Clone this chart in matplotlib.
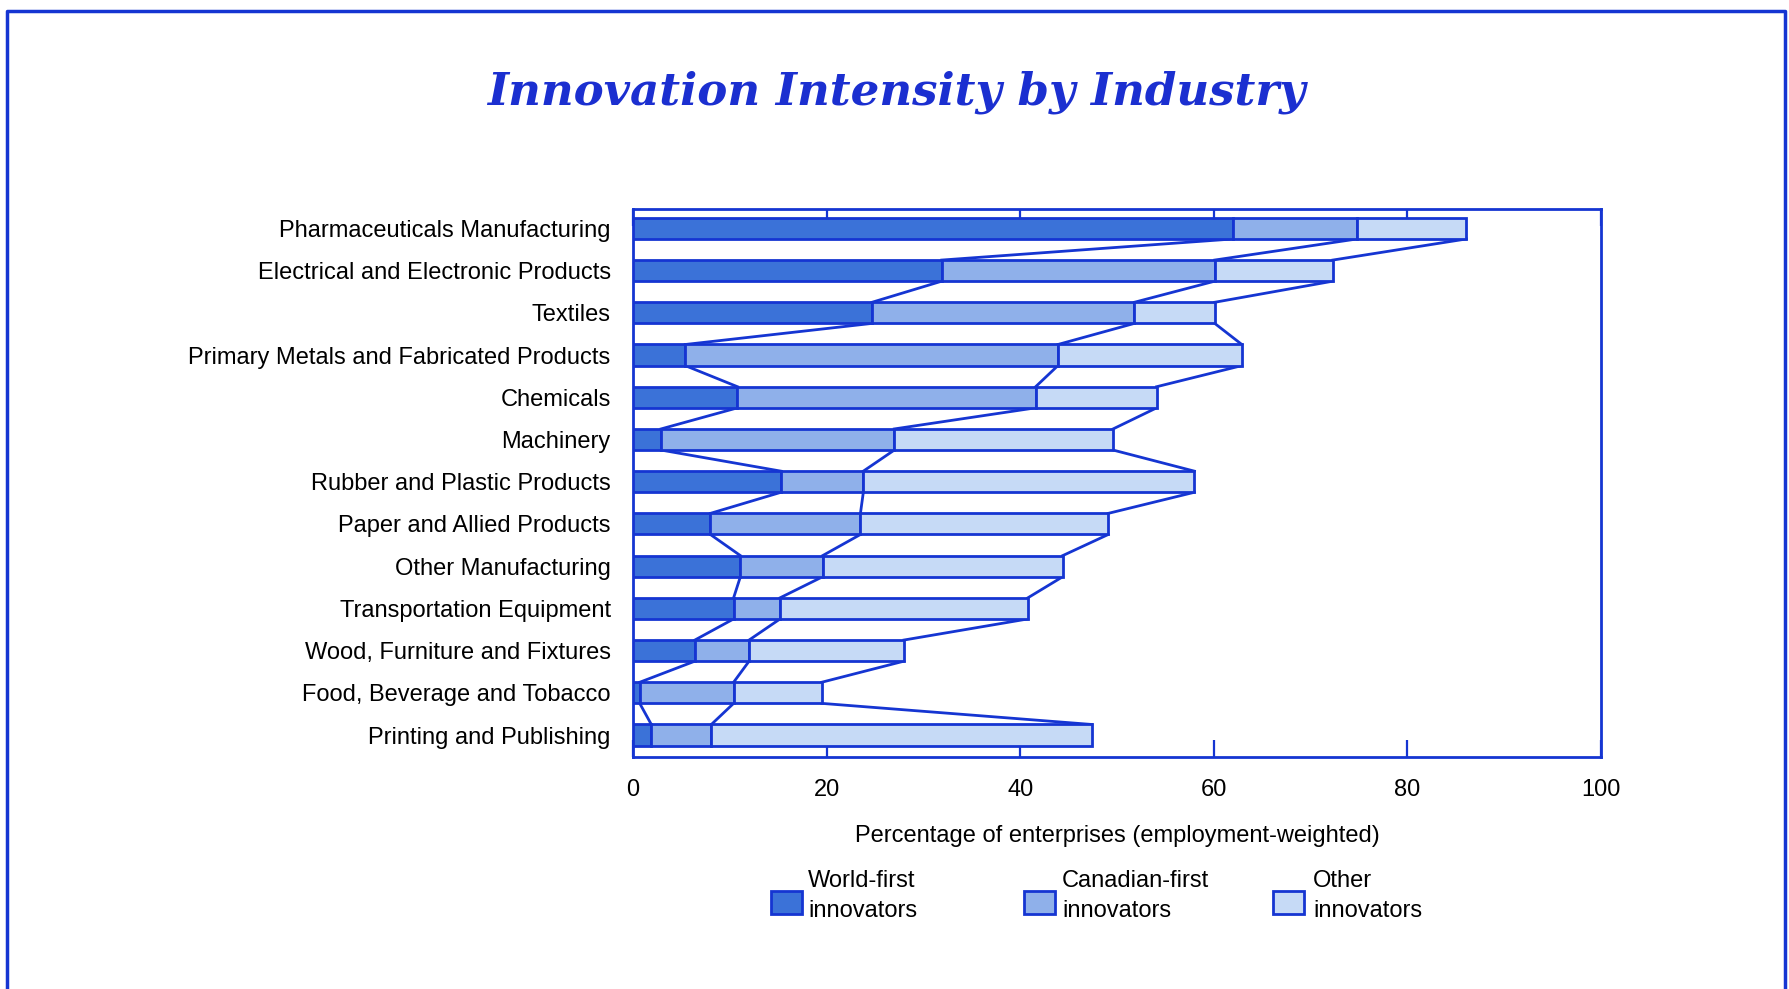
import matplotlib.pyplot as plt
from matplotlib.patches import Rectangle
from matplotlib.lines import Line2D
import numpy as np

plt.rcParams['font.family'] = ['Liberation Sans', 'DejaVu Sans']

industries = ["Pharmaceuticals Manufacturing", "Electrical and Electronic Products",
              "Textiles", "Primary Metals and Fabricated Products", "Chemicals",
              "Machinery", "Rubber and Plastic Products", "Paper and Allied Products",
              "Other Manufacturing", "Transportation Equipment",
              "Wood, Furniture and Fixtures", "Food, Beverage and Tobacco",
              "Printing and Publishing"]

# cumulative end of each segment (percent)
world_first = [62.0, 31.9, 24.7, 5.4, 10.8, 2.9, 15.3, 8.0, 11.1, 10.4, 6.4, 0.7, 1.9]
canadian_first = [74.8, 60.1, 51.8, 43.9, 41.6, 27.0, 23.8, 23.5, 19.6, 15.2, 12.0, 10.4, 8.1]
other = [86.1, 72.3, 60.1, 62.9, 54.1, 49.6, 58.0, 49.1, 44.4, 40.8, 28.0, 19.5, 47.4]

series_names = ["World-first\ninnovators", "Canadian-first\ninnovators", "Other\ninnovators"]
fills = ['#3b72d8', '#8fb0ea', '#c6daf6']
edge = '#1535d2'
title_blue = '#1b2fd0'

fig = plt.figure(figsize=(17.9, 9.89), dpi=100)
ax = fig.add_axes([0.3536, 0.2346, 0.5408, 0.5541])

y = np.arange(len(industries))
h = 0.5
ends = [np.array(world_first), np.array(canadian_first), np.array(other)]
starts = [np.zeros(len(y)), ends[0], ends[1]]

bars = []
for s, e, c, name in zip(starts, ends, fills, series_names):
    b = ax.barh(y, e - s, left=s, height=h, color=c, edgecolor=edge,
                linewidth=2, label=name, zorder=3)
    bars.append(b)

# connecting lines between the segment ends of neighbouring bars
for e in ends:
    for i in range(len(y) - 1):
        ax.plot([e[i], e[i + 1]], [y[i] + h / 2, y[i + 1] - h / 2],
                color=edge, linewidth=2, zorder=2)

ax.set_xlim(0, 100)
ax.set_ylim(12.52, -0.46)
ax.set_yticks(y)
ax.set_yticklabels(industries, fontsize=17)
ax.tick_params(axis='y', length=0, pad=16)
ax.set_xticks([0, 20, 40, 60, 80, 100])
ax.tick_params(axis='x', direction='in', length=12, width=1.6, color=edge,
               top=True, labelsize=17, pad=16)
ax.set_xlabel("Percentage of enterprises (employment-weighted)", fontsize=17, labelpad=17)
for sp in ax.spines.values():
    sp.set_color(edge)
    sp.set_linewidth(2)

fig.text(0.5006, 0.907, "Innovation Intensity by Industry", fontsize=32.5,
         family='DejaVu Serif', style='italic', weight='bold', color=title_blue,
         ha='center', va='center')

# legend boxes
W, H = fig.get_size_inches() * fig.dpi
for px, tx, c, name in zip([771, 1024, 1273], [808, 1062, 1313], fills, series_names):
    fig.add_artist(Rectangle((px / W, 1 - 914 / H), 31 / W, 23 / H, facecolor=c,
                             edgecolor=edge, linewidth=2, transform=fig.transFigure))
    fig.text(tx / W, 1 - 896 / H, name, fontsize=17, ha='left', va='center',
             linespacing=1.42)

# outer frame
fx0, fx1, fy0 = 6.5 / W, 1785 / W, 1 - 10.5 / H
fig.add_artist(Line2D([fx0, fx0, fx1, fx1], [0, fy0, fy0, 0], color=edge,
                      linewidth=2.5, transform=fig.transFigure))

plt.savefig("out.png", dpi=100)
plt.close()
